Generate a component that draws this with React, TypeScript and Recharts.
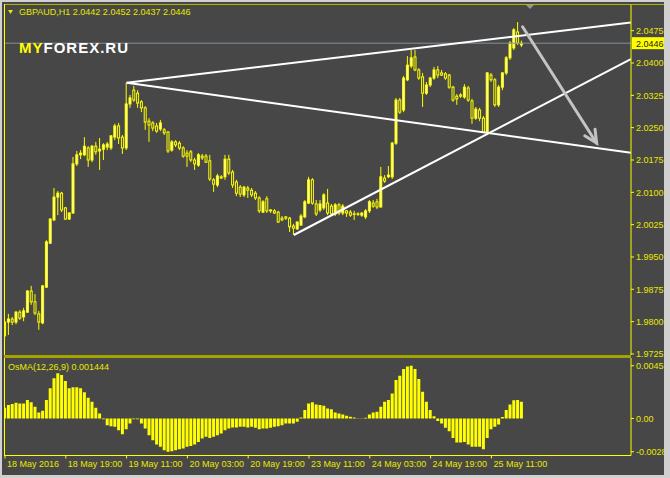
import * as React from "react"
import { ComposedChart, BarChart, Bar, XAxis, YAxis, ReferenceLine } from "recharts"

// ── Data ──────────────────────────────────────────────────────────────
const opens = [
  1.9767, 1.9799, 1.9806, 1.9799, 1.9822, 1.9811, 1.9822, 1.9871, 1.9846, 1.9818,
  1.9797, 1.988, 1.9982, 2.0036, 2.0089, 2.0098, 2.0064, 2.0038, 2.0052, 2.0166,
  2.0187, 2.0187, 2.0203, 2.0175, 2.0207, 2.0196, 2.02, 2.0205, 2.0203, 2.0228,
  2.0254, 2.0228, 2.0203, 2.0305, 2.0337, 2.033, 2.031, 2.0296, 2.0265, 2.0261,
  2.0254, 2.0247, 2.0245, 2.024, 2.0198, 2.0217, 2.0214, 2.0203, 2.0191, 2.0194,
  2.0175, 2.0163, 2.0184, 2.0184, 2.0173, 2.0129, 2.0117, 2.0136, 2.0136, 2.0177,
  2.0147, 2.0124, 2.0112, 2.0094, 2.011, 2.0105, 2.0098, 2.0087, 2.0054, 2.0085,
  2.0057, 2.0057, 2.0054, 2.004, 2.0043, 2.004, 2.0022, 2.0015, 2.0024, 2.0043,
  2.0075, 2.0129, 2.0073, 2.0059, 2.0064, 2.0075, 2.0068, 2.005, 2.0071, 2.0052,
  2.0057, 2.0054, 2.005, 2.005, 2.0047, 2.0043, 2.0057, 2.0075, 2.0078, 2.0066,
  2.0133, 2.0136, 2.0136, 2.0214, 2.0314, 2.0291, 2.0361, 2.0393, 2.0414, 2.0384,
  2.0368, 2.033, 2.0349, 2.0365, 2.0384, 2.0377, 2.0375, 2.0372, 2.0344, 2.0323,
  2.0326, 2.0321, 2.0342, 2.0312, 2.0272, 2.0291, 2.0272, 2.0238, 2.0372, 2.0361,
  2.0303, 2.0344, 2.0377, 2.0412, 2.0435, 2.0472, 2.0442,
]
const highs = [
  1.9804, 1.9818, 1.9811, 1.9825, 1.9827, 1.9832, 1.9873, 1.9883, 1.9864, 1.9825,
  1.9885, 1.9989, 2.004, 2.011, 2.0103, 2.0101, 2.0066, 2.0054, 2.0182, 2.0196,
  2.0198, 2.0228, 2.0207, 2.021, 2.0217, 2.0226, 2.0214, 2.0217, 2.0233, 2.0259,
  2.0261, 2.0233, 2.0354, 2.0326, 2.0347, 2.0337, 2.0314, 2.03, 2.0272, 2.0265,
  2.0261, 2.0268, 2.0249, 2.0242, 2.0221, 2.0221, 2.0219, 2.0207, 2.0198, 2.0198,
  2.018, 2.0191, 2.0189, 2.0189, 2.0187, 2.0133, 2.0143, 2.014, 2.0187, 2.0187,
  2.0152, 2.0129, 2.0117, 2.0115, 2.0115, 2.011, 2.0103, 2.0091, 2.0082, 2.0091,
  2.0061, 2.0061, 2.0057, 2.0045, 2.0045, 2.0043, 2.0027, 2.0033, 2.005, 2.0082,
  2.0136, 2.0133, 2.0082, 2.0082, 2.0098, 2.0108, 2.0073, 2.0075, 2.0075, 2.0073,
  2.0059, 2.0059, 2.0057, 2.0054, 2.0054, 2.0061, 2.0082, 2.0082, 2.0085, 2.0159,
  2.014, 2.0161, 2.0217, 2.0319, 2.0319, 2.037, 2.0416, 2.043, 2.043, 2.0388,
  2.0377, 2.0356, 2.0368, 2.0391, 2.0393, 2.0384, 2.0379, 2.0375, 2.0347, 2.0328,
  2.033, 2.0351, 2.0347, 2.0317, 2.0298, 2.0296, 2.0277, 2.0379, 2.0377, 2.0365,
  2.0349, 2.0379, 2.0416, 2.0451, 2.0481, 2.0495, 2.0452,
]
const lows = [
  1.9757, 1.9769, 1.9792, 1.9794, 1.9804, 1.9801, 1.982, 1.9839, 1.9815, 1.9781,
  1.9794, 1.9878, 1.998, 2.0033, 2.0047, 2.0054, 2.0036, 2.0036, 2.005, 2.0161,
  2.0177, 2.0184, 2.0159, 2.017, 2.0187, 2.0152, 2.0175, 2.0198, 2.0198, 2.0221,
  2.0212, 2.0189, 2.0198, 2.0296, 2.031, 2.0296, 2.0286, 2.0245, 2.0217, 2.0242,
  2.0238, 2.0242, 2.0233, 2.0191, 2.0194, 2.0205, 2.0198, 2.018, 2.0159, 2.017,
  2.0152, 2.0159, 2.0175, 2.0168, 2.0126, 2.0101, 2.0112, 2.0131, 2.0129, 2.014,
  2.011, 2.0091, 2.0089, 2.0089, 2.0087, 2.0089, 2.0082, 2.0052, 2.0052, 2.0052,
  2.0052, 2.005, 2.0029, 2.0033, 2.0036, 2.0008, 2.0001, 2.0013, 2.0022, 2.004,
  2.0073, 2.0071, 2.0045, 2.0054, 2.0059, 2.0047, 2.0045, 2.0045, 2.0047, 2.0047,
  2.0043, 2.0043, 2.0036, 2.0045, 2.0043, 2.0038, 2.0052, 2.0064, 2.0061, 2.0064,
  2.0122, 2.0133, 2.0131, 2.021, 2.0282, 2.0286, 2.0358, 2.0388, 2.0381, 2.0361,
  2.0298, 2.0326, 2.0344, 2.0361, 2.0365, 2.037, 2.0361, 2.034, 2.031, 2.0303,
  2.0319, 2.0317, 2.031, 2.0259, 2.0268, 2.0265, 2.0238, 2.0235, 2.0356, 2.0298,
  2.0298, 2.0337, 2.0372, 2.0407, 2.043, 2.0442, 2.0437,
]
const closes = [
  1.9799, 1.9806, 1.9799, 1.9822, 1.9808, 1.9825, 1.9871, 1.9846, 1.982, 1.9799,
  1.9883, 1.9985, 2.0038, 2.0089, 2.0098, 2.0059, 2.0038, 2.0052, 2.0166, 2.0187,
  2.0191, 2.0207, 2.0175, 2.0207, 2.0194, 2.02, 2.021, 2.0212, 2.0231, 2.0254,
  2.0226, 2.0203, 2.0305, 2.0319, 2.0314, 2.0307, 2.0296, 2.0263, 2.0256, 2.0249,
  2.0242, 2.0261, 2.0238, 2.0196, 2.0217, 2.021, 2.0203, 2.0184, 2.0184, 2.0175,
  2.0166, 2.0187, 2.018, 2.017, 2.0131, 2.0119, 2.0138, 2.0133, 2.0177, 2.0145,
  2.0117, 2.0098, 2.0096, 2.0112, 2.0105, 2.0094, 2.0087, 2.0057, 2.0078, 2.0057,
  2.0059, 2.0052, 2.0031, 2.0036, 2.004, 2.002, 2.0017, 2.0031, 2.0045, 2.0078,
  2.0129, 2.0075, 2.005, 2.0073, 2.0094, 2.0052, 2.005, 2.0071, 2.0052, 2.0068,
  2.0052, 2.0047, 2.0049, 2.0049, 2.0052, 2.0057, 2.0078, 2.0068, 2.0066, 2.0136,
  2.0126, 2.014, 2.0214, 2.0314, 2.0286, 2.0365, 2.0395, 2.0412, 2.0384, 2.0365,
  2.033, 2.0349, 2.0365, 2.0384, 2.0372, 2.0372, 2.0365, 2.0344, 2.0314, 2.0317,
  2.0323, 2.0344, 2.0314, 2.0272, 2.0293, 2.0272, 2.024, 2.0377, 2.0361, 2.0303,
  2.0344, 2.0377, 2.0412, 2.0446, 2.0477, 2.0446, 2.0446,
]
const osma = [
  0.00093, 0.00116, 0.00125, 0.00137, 0.00131, 0.00131, 0.0016, 0.0014, 0.00102, 0.00052,
  0.00067, 0.0016, 0.00262, 0.00349, 0.00393, 0.00378, 0.00326, 0.00262, 0.00271, 0.00271,
  0.00262, 0.00227, 0.0018, 0.00146, 0.00093, 0.00044, -0.00006, -0.00058, -0.00067, -0.00073,
  -0.00102, -0.00137, -0.00093, -0.00044, -0.00006, -0.00006, -0.00044, -0.00087, -0.00146, -0.00189,
  -0.00227, -0.00247, -0.00276, -0.002891, -0.00285, -0.00276, -0.00268, -0.00262, -0.00247, -0.00239,
  -0.00227, -0.00204, -0.00175, -0.0016, -0.00169, -0.0016, -0.00146, -0.00131, -0.00102, -0.00087,
  -0.00079, -0.00079, -0.00073, -0.00073, -0.00079, -0.00073, -0.00081, -0.00093, -0.00087, -0.00087,
  -0.00081, -0.00073, -0.00067, -0.00058, -0.00044, -0.00044, -0.00044, -0.00029, 0.00009, 0.00073,
  0.00131, 0.0014, 0.00122, 0.00116, 0.00111, 0.00087, 0.00081, 0.00052, 0.00044, 0.00035,
  0.00023, 0.00015, 0.00009, -0.00003, -0.00003, 0.00006, 0.00035, 0.00052, 0.00058, 0.00102,
  0.00146, 0.0016, 0.00218, 0.00335, 0.00372, 0.00431, 0.00452, 0.004587, 0.00431, 0.00343,
  0.00233, 0.00146, 0.00073, 0.0002, -0.00023, -0.00044, -0.00081, -0.00111, -0.00169, -0.0021,
  -0.0021, -0.00204, -0.00227, -0.00247, -0.00247, -0.00247, -0.00268, -0.00169, -0.00093, -0.00073,
  -0.00052, 0.00012, 0.00073, 0.00122, 0.00158, 0.0016, 0.001444,
]

const priceTicks = [1.9725, 1.98, 1.9875, 1.995, 2.0025, 2.01, 2.0175, 2.025, 2.0325, 2.04, 2.0475]
const timeTicks = [0, 16, 32, 48, 64, 80, 96, 112, 128]
const timeLabels = [
  "18 May 2016", "18 May 19:00", "19 May 11:00", "20 May 03:00", "20 May 19:00",
  "23 May 11:00", "24 May 03:00", "24 May 19:00", "25 May 11:00",
]
const osmaTicks = [-0.002891, 0, 0.004587]
const osmaTickLabels = ["-0.002891", "0.00", "0.004587"]

// lignes tracées à la main sur le graphique (index de barre, prix)
const trendLines = [
  [[32, 2.0354], [164.7, 2.0494]],
  [[32, 2.0354], [164.7, 2.0192]],
  [[76, 2.0001], [164.7, 2.0409]],
]
const arrowLine = [[136.2, 2.0484], [155.7, 2.0214]]
const lastPrice = 2.0446

// ── Layout ────────────────────────────────────────────────────────────
const X_DOMAIN = [-0.263, 164.737]
const PRICE_DOMAIN = [1.97226, 2.05369]
const OSMA_DOMAIN = [-0.003221, 0.005257]
const YELLOW = "#ffff00"
const TEXT = "#e8e800"
const BG = "#474747"
const FONT = "'Liberation Sans', Arial, sans-serif"

const candles = opens.map((o, i) => ({ i, o, h: highs[i], l: lows[i], c: closes[i] }))
const osmaRows = osma.map((v, i) => ({ i, v }))

// ── Shapes ────────────────────────────────────────────────────────────
function Candle(props: any) {
  const { x, y, width, height, payload } = props
  if (!payload) return null
  const { o, h, l, c } = payload
  const top = Math.min(y, y + height)
  const full = Math.abs(height)
  const cx = x + width / 2
  const k = h - l > 0 ? full / (h - l) : 0
  const yO = top + (h - o) * k
  const yC = top + (h - c) * k
  const bull = c >= o
  return (
    <g>
      <line x1={cx} x2={cx} y1={top} y2={top + full} stroke={YELLOW} strokeWidth={1} />
      <rect
        x={cx - 1}
        y={Math.min(yO, yC)}
        width={2}
        height={Math.max(Math.abs(yC - yO), 0.5)}
        fill={bull ? "#ffffb0" : BG}
        stroke={YELLOW}
        strokeWidth={1}
      />
    </g>
  )
}

function ArrowShape(props: any) {
  const { x1, y1, x2, y2 } = props
  const a = Math.atan2(y2 - y1, x2 - x1)
  const len = 14
  const w1 = [x2 - len * Math.cos(a - 0.45), y2 - len * Math.sin(a - 0.45)]
  const w2 = [x2 - len * Math.cos(a + 0.45), y2 - len * Math.sin(a + 0.45)]
  return (
    <g stroke="#c4c4c4" strokeWidth={3} fill="none" strokeLinecap="round">
      <line x1={x1} y1={y1} x2={x2} y2={y2} />
      <polyline points={`${w1[0]},${w1[1]} ${x2},${y2} ${w2[0]},${w2[1]}`} />
    </g>
  )
}

function PriceLine(props: any) {
  const { x1, y1, x2 } = props
  const left = Math.min(x1, x2)
  const right = Math.max(x1, x2)
  return (
    <g>
      <line x1={left} x2={right} y1={y1} y2={y1} stroke="#8090a0" strokeWidth={1} />
      <rect x={right + 1} y={y1 - 6} width={33} height={12} fill={YELLOW} />
      <text x={right + 5} y={y1 + 3.5} fontSize={9} fontFamily={FONT} fill="#202020">
        {lastPrice.toFixed(4)}
      </text>
    </g>
  )
}

function TimeTick(props: any) {
  const { x, y, payload } = props
  const idx = timeTicks.indexOf(payload.value)
  return (
    <text x={x + 2} y={y} dy={7} fontSize={9} fontFamily={FONT} fill={TEXT} textAnchor="start">
      {timeLabels[idx]}
    </text>
  )
}

// ── Component ─────────────────────────────────────────────────────────
export default function App() {
  return (
    <div
      style={{
        position: "fixed",
        left: 0,
        top: 0,
        width: 670,
        height: 478,
        background: BG,
        overflow: "hidden",
      }}
    >
      {/* main price panel */}
      <div style={{ position: "absolute", left: 0, top: 0 }}>
        <ComposedChart
          width={670}
          height={360}
          data={candles}
          margin={{ top: 4, right: 0, bottom: 5, left: 4 }}
        >
          <XAxis type="number" dataKey="i" domain={X_DOMAIN} hide allowDataOverflow />
          <YAxis
            orientation="right"
            width={39}
            domain={PRICE_DOMAIN}
            ticks={priceTicks}
            allowDataOverflow
            tickFormatter={(v: number) => v.toFixed(4)}
            tick={{ fill: TEXT, fontSize: 9, fontFamily: FONT }}
            tickSize={3}
            tickMargin={2}
            axisLine={{ stroke: YELLOW }}
            tickLine={{ stroke: YELLOW }}
          />
          <ReferenceLine y={lastPrice} shape={PriceLine} />
          <Bar
            dataKey={(d: any) => [d.l, d.h]}
            barSize={3}
            shape={Candle}
            isAnimationActive={false}
          />
          {trendLines.map((seg, k) => (
            <ReferenceLine
              key={k}
              segment={[{ x: seg[0][0], y: seg[0][1] }, { x: seg[1][0], y: seg[1][1] }]}
              stroke="#ffffff"
              strokeWidth={2}
              ifOverflow="visible"
            />
          ))}
          <ReferenceLine
            segment={[
              { x: arrowLine[0][0], y: arrowLine[0][1] },
              { x: arrowLine[1][0], y: arrowLine[1][1] },
            ]}
            shape={ArrowShape}
            ifOverflow="visible"
          />
        </ComposedChart>
      </div>

      {/* OsMA panel */}
      <div style={{ position: "absolute", left: 0, top: 356 }}>
        <BarChart
          width={670}
          height={120}
          data={osmaRows}
          margin={{ top: 2, right: 0, bottom: 0, left: 4 }}
        >
          <XAxis
            type="number"
            dataKey="i"
            domain={X_DOMAIN}
            allowDataOverflow
            ticks={timeTicks}
            height={20.5}
            tick={<TimeTick />}
            tickSize={3}
            tickMargin={1}
            axisLine={{ stroke: YELLOW }}
            tickLine={{ stroke: YELLOW }}
          />
          <YAxis
            orientation="right"
            width={39}
            domain={OSMA_DOMAIN}
            ticks={osmaTicks}
            allowDataOverflow
            tickFormatter={(v: number) => osmaTickLabels[osmaTicks.indexOf(v)] ?? ""}
            tick={{ fill: TEXT, fontSize: 9, fontFamily: FONT }}
            tickSize={3}
            tickMargin={2}
            axisLine={{ stroke: YELLOW }}
            tickLine={{ stroke: YELLOW }}
          />
          <Bar dataKey="v" fill={YELLOW} barSize={3} isAnimationActive={false} />
        </BarChart>
      </div>

      {/* frame, captions */}
      <svg
        width={670}
        height={478}
        style={{ position: "absolute", left: 0, top: 0, pointerEvents: "none" }}
      >
        <line x1={4} x2={664} y1={4.5} y2={4.5} stroke="#b4b400" />
        <line x1={4.5} x2={4.5} y1={4} y2={356} stroke={YELLOW} />
        <rect x={4} y={355} width={627} height={3} fill="#a4a400" />
        <line x1={4.5} x2={4.5} y1={358} y2={456} stroke={YELLOW} />
        <polygon points="526,5 534,5 530,9" fill="#8a96a4" />
        <polygon points="8,10 13,10 10.5,14" fill={TEXT} />
        <text x={19} y={15} fontSize={9} fontFamily={FONT} fill={TEXT}>
          GBPAUD,H1  2.0442 2.0452 2.0437 2.0446
        </text>
        <text x={19} y={52.5} fontSize={15} fontWeight="bold" fontFamily={FONT} letterSpacing={1}>
          <tspan fill={YELLOW}>MY</tspan>
          <tspan fill="#ffffff">FOREX.RU</tspan>
        </text>
        <text x={8} y={370} fontSize={9} fontFamily={FONT} fill={TEXT}>
          OsMA(12,26,9) 0.001444
        </text>
        {/* window edges */}
        <rect x={0} y={0} width={670} height={2} fill="#d0d0d0" />
        <rect x={0} y={0} width={2} height={478} fill="#d0d0d0" />
        <rect x={664} y={0} width={6} height={478} fill="#d0d0d0" />
        <rect x={0} y={475} width={670} height={3} fill="#d0d0d0" />
      </svg>
    </div>
  )
}
